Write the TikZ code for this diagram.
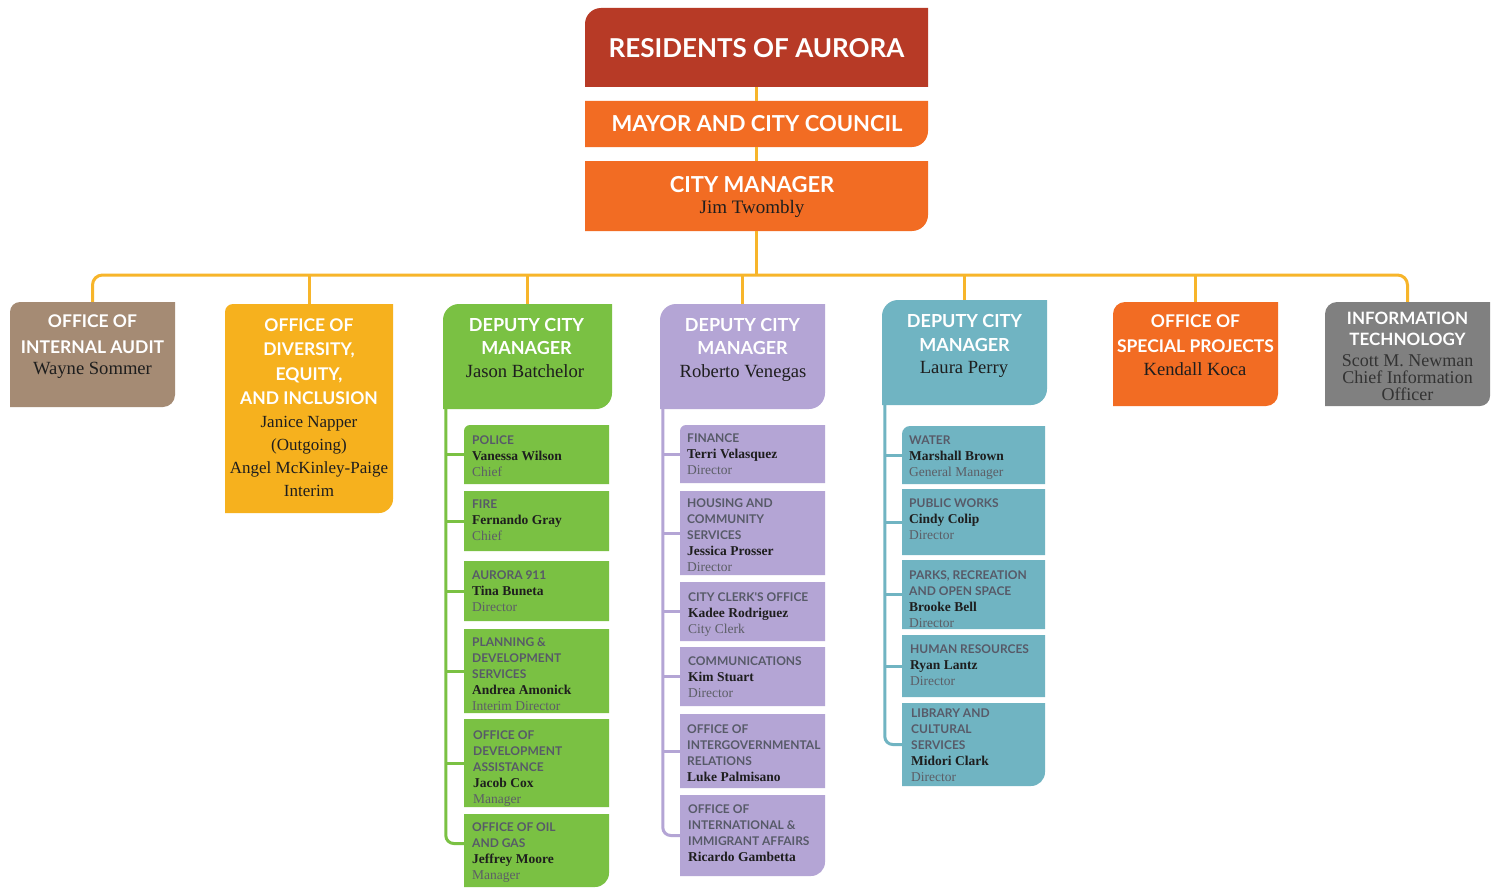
\documentclass[tikz,border=0pt]{standalone}
\usepackage{fontspec}
\setmainfont{Liberation Serif}
\newfontfamily\hdfont{Lato}
\usetikzlibrary{fit}
\definecolor{cres}{HTML}{B73A26}
\definecolor{corg}{HTML}{F26C23}
\definecolor{cbus}{HTML}{F7B52A}
\definecolor{ctaupe}{HTML}{A58B74}
\definecolor{cyel}{HTML}{F6B11E}
\definecolor{cgreen}{HTML}{7AC143}
\definecolor{cpurp}{HTML}{B4A5D5}
\definecolor{cteal}{HTML}{70B4C2}
\definecolor{cgray}{HTML}{808080}
\definecolor{csubhd}{HTML}{575A68}
\definecolor{cnm}{HTML}{1E1E1E}
\definecolor{cti}{HTML}{5C5E66}
\newcommand\subhd{\hdfont\bfseries\fontsize{12}{16}\selectfont\color{csubhd}}
\newcommand\subnm{\rmfamily\bfseries\fontsize{13.5}{16}\selectfont\color{cnm}}
\newcommand\subti{\rmfamily\mdseries\fontsize{13.5}{16}\selectfont\color{cti}}
\newcommand\bx[8]{%
  \fill[#6] (#2,#3+#7) .. controls (#2,#3+0.45*#7) and (#2+0.45*#7,#3) .. (#2+#7,#3) -- (#4,#3) -- (#4,#5-#8)
    .. controls (#4,#5-0.45*#8) and (#4-0.45*#8,#5) .. (#4-#8,#5) -- (#2,#5) -- cycle;
  \path (#2,#3) coordinate (#1-nw) (#4,#5) coordinate (#1-se);
  \node[inner sep=0pt, fit=(#1-nw)(#1-se)] (#1) {};
}
\tikzset{
  hd/.style={font=\hdfont\bfseries\fontsize{17.5}{24}\selectfont, text=white, align=center, inner sep=0pt},
  nm/.style={font=\fontsize{18.6}{23}\selectfont, text=cnm, align=center, inner sep=0pt},
  sub/.style={align=left, inner sep=0pt, anchor=north west, font=\fontsize{13}{16}\selectfont},
  bus/.style={draw=cbus, line width=3pt},
  gl/.style={draw=cgreen, line width=3pt},
  pl/.style={draw=cpurp, line width=3pt},
  tl/.style={draw=cteal, line width=3pt},
}
\begin{document}
\begin{tikzpicture}[x=1pt,y=-1pt]
\useasboundingbox (0,0) rectangle (1498,888);
\fill[white] (0,0) rectangle (1498,888);
\coordinate (busy) at (0,275);
% ---- boxes
\bx{res}{585}{8}{928}{87}{cres}{16}{0}
\bx{mayor}{585}{101}{928}{147}{corg}{0}{16}
\bx{cm}{585}{161}{928}{231}{corg}{0}{16}
\bx{audit}{10}{302}{175}{407}{ctaupe}{10}{12}
\bx{dei}{225}{304}{393}{513}{cyel}{8}{14}
\bx{dg}{443}{304}{612}{409}{cgreen}{16}{16}
\bx{dp}{660}{304}{825}{409}{cpurp}{16}{16}
\bx{dt}{882}{300}{1047}{405}{cteal}{16}{16}
\bx{spec}{1113}{302}{1278}{406}{corg}{12}{12}
\bx{it}{1325}{302}{1490}{406}{cgray}{12}{10}
% green column
\bx{police}{464}{425}{609}{484}{cgreen}{6}{0}
\bx{fire}{464}{491}{609}{551}{cgreen}{0}{0}
\bx{a911}{464}{561}{609}{621}{cgreen}{0}{0}
\bx{plan}{464}{629}{609}{713}{cgreen}{0}{0}
\bx{oda}{464}{719}{609}{807}{cgreen}{0}{0}
\bx{oil}{464}{814}{609}{887}{cgreen}{0}{14}
% purple column
\bx{fin}{680}{425}{825}{483}{cpurp}{6}{0}
\bx{hous}{680}{491}{825}{575}{cpurp}{0}{0}
\bx{clerk}{680}{582}{825}{641}{cpurp}{0}{0}
\bx{comm}{680}{647}{825}{706}{cpurp}{0}{0}
\bx{igr}{680}{714}{825}{788}{cpurp}{0}{0}
\bx{intl}{680}{795}{825}{876}{cpurp}{0}{14}
% teal column
\bx{water}{902}{426}{1045}{484}{cteal}{8}{0}
\bx{pw}{902}{489}{1045}{555}{cteal}{0}{0}
\bx{parks}{902}{560}{1045}{629}{cteal}{0}{0}
\bx{hr}{902}{635}{1045}{697}{cteal}{0}{0}
\bx{lib}{902}{703}{1045}{786}{cteal}{0}{14}
% ---- connectors
\draw[bus] (res.south) -- (mayor.north);
\draw[bus] (mayor.south) -- (cm.north);
\draw[bus] (cm.south) -- (cm.south |- busy);
\draw[bus, rounded corners=10pt] (audit.north) -- (audit.north |- busy) -- (it.north |- busy) -- (it.north);
\foreach \b in {dei,dg,dp,dt,spec} \draw[bus] (\b.north |- busy) -- (\b.north);
\coordinate (gsp) at ([xshift=3pt]dg.south west);
\coordinate (psp) at ([xshift=3pt]dp.south west);
\coordinate (tsp) at ([xshift=3pt]dt.south west);
\draw[gl, rounded corners=8pt] (gsp) |- ([yshift=7pt]oil.west);
\foreach \b in {police,fire,a911,plan,oda} \draw[gl] (gsp |- \b.west) -- (\b.west);
\draw[pl, rounded corners=8pt] (psp) |- (intl.west);
\foreach \b in {fin,hous,clerk,comm,igr} \draw[pl] (psp |- \b.west) -- (\b.west);
\draw[tl, rounded corners=8pt] (tsp) |- (lib.west);
\foreach \b in {water,pw,parks,hr} \draw[tl] (tsp |- \b.west) -- (\b.west);
% ---- top texts
\node[hd, font=\hdfont\bfseries\fontsize{26}{30}\selectfont] (res-t) at (756.5,48) {RESIDENTS OF AURORA};
\node[hd, font=\hdfont\bfseries\fontsize{22}{26}\selectfont] (mayor-t) at (757,124) {MAYOR AND CITY COUNCIL};
\node[hd, font=\hdfont\bfseries\fontsize{22}{26}\selectfont] (cm-t) at (752,185) {CITY MANAGER};
\node[nm, font=\fontsize{19}{22}\selectfont] (cm-n) at (752,209) {Jim Twombly};
% ---- header texts
\node[hd, anchor=north, font=\hdfont\bfseries\fontsize{17.5}{26}\selectfont] (audit-t) at (92.5,314.5) {OFFICE OF\\INTERNAL AUDIT};
\node[nm] (audit-n) at (92.5,370) {Wayne Sommer};
\node[hd, anchor=north, font=\hdfont\bfseries\fontsize{17.5}{24.3}\selectfont] (dei-t) at (309,318.5) {OFFICE OF\\DIVERSITY,\\EQUITY,\\AND INCLUSION};
\node[nm, anchor=north, font=\fontsize{17}{23}\selectfont] (dei-n) at (309,416) {Janice Napper\\(Outgoing)\\Angel McKinley-Paige\\Interim};
\node[hd, anchor=north, font=\hdfont\bfseries\fontsize{18}{23}\selectfont] (dg-t) at (526.5,318.5) {DEPUTY CITY\\MANAGER};
\node[nm] (dg-n) at (525,371) {Jason Batchelor};
\node[hd, anchor=north, font=\hdfont\bfseries\fontsize{18}{23}\selectfont] (dp-t) at (742.5,318.5) {DEPUTY CITY\\MANAGER};
\node[nm] (dp-n) at (743,373) {Roberto Venegas};
\node[hd, anchor=north, font=\hdfont\bfseries\fontsize{18}{24}\selectfont] (dt-t) at (964.5,314.5) {DEPUTY CITY\\MANAGER};
\node[nm] (dt-n) at (964,369) {Laura Perry};
\node[hd, anchor=north, font=\hdfont\bfseries\fontsize{17.5}{25}\selectfont] (spec-t) at (1195.5,314.5) {OFFICE OF\\SPECIAL PROJECTS};
\node[nm] (spec-n) at (1195,369) {Kendall Koca};
\node[hd, anchor=north, font=\hdfont\bfseries\fontsize{17}{21}\selectfont] (it-t) at (1407.5,311.5) {INFORMATION\\TECHNOLOGY};
\node[nm, anchor=north, text=black!80, font=\fontsize{18}{17}\selectfont] (it-n) at (1407.5,354) {Scott M. Newman\\Chief Information\\Officer};
% ---- green sub texts
\node[sub] (police-t) at (472,435.5) {\subhd POLICE\\\subnm Vanessa Wilson\\\subti Chief};
\node[sub] (fire-t) at (472,499.5) {\subhd FIRE\\\subnm Fernando Gray\\\subti Chief};
\node[sub] (a911-t) at (472,570.5) {\subhd AURORA 911\\\subnm Tina Buneta\\\subti Director};
\node[sub] (plan-t) at (472,637.5) {\subhd PLANNING \&\\\subhd DEVELOPMENT\\\subhd SERVICES\\\subnm Andrea Amonick\\\subti Interim Director};
\node[sub] (oda-t) at (473,730.5) {\subhd OFFICE OF\\\subhd DEVELOPMENT\\\subhd ASSISTANCE\\\subnm Jacob Cox\\\subti Manager};
\node[sub] (oil-t) at (472,822.5) {\subhd OFFICE OF OIL\\\subhd AND GAS\\\subnm Jeffrey Moore\\\subti Manager};
% ---- purple sub texts
\node[sub] (fin-t) at (687,433.5) {\subhd FINANCE\\\subnm Terri Velasquez\\\subti Director};
\node[sub] (hous-t) at (687,498.5) {\subhd HOUSING AND\\\subhd COMMUNITY\\\subhd SERVICES\\\subnm Jessica Prosser\\\subti Director};
\node[sub] (clerk-t) at (688,592.5) {\subhd CITY CLERK'S OFFICE\\\subnm Kadee Rodriguez\\\subti City Clerk};
\node[sub] (comm-t) at (688,656.5) {\subhd COMMUNICATIONS\\\subnm Kim Stuart\\\subti Director};
\node[sub] (igr-t) at (687,724.5) {\subhd OFFICE OF\\\subhd INTERGOVERNMENTAL\\\subhd RELATIONS\\\subnm Luke Palmisano};
\node[sub] (intl-t) at (688,804.5) {\subhd OFFICE OF\\\subhd INTERNATIONAL \&\\\subhd IMMIGRANT AFFAIRS\\\subnm Ricardo Gambetta};
% ---- teal sub texts
\node[sub] (water-t) at (909,435.5) {\subhd WATER\\\subnm Marshall Brown\\\subti General Manager};
\node[sub] (pw-t) at (909,498.5) {\subhd PUBLIC WORKS\\\subnm Cindy Colip\\\subti Director};
\node[sub] (parks-t) at (909,570.5) {\subhd PARKS, RECREATION\\\subhd AND OPEN SPACE\\\subnm Brooke Bell\\\subti Director};
\node[sub] (hr-t) at (910,644.5) {\subhd HUMAN RESOURCES\\\subnm Ryan Lantz\\\subti Director};
\node[sub] (lib-t) at (911,708.5) {\subhd LIBRARY AND\\\subhd CULTURAL\\\subhd SERVICES\\\subnm Midori Clark\\\subti Director};
\end{tikzpicture}
\end{document}
